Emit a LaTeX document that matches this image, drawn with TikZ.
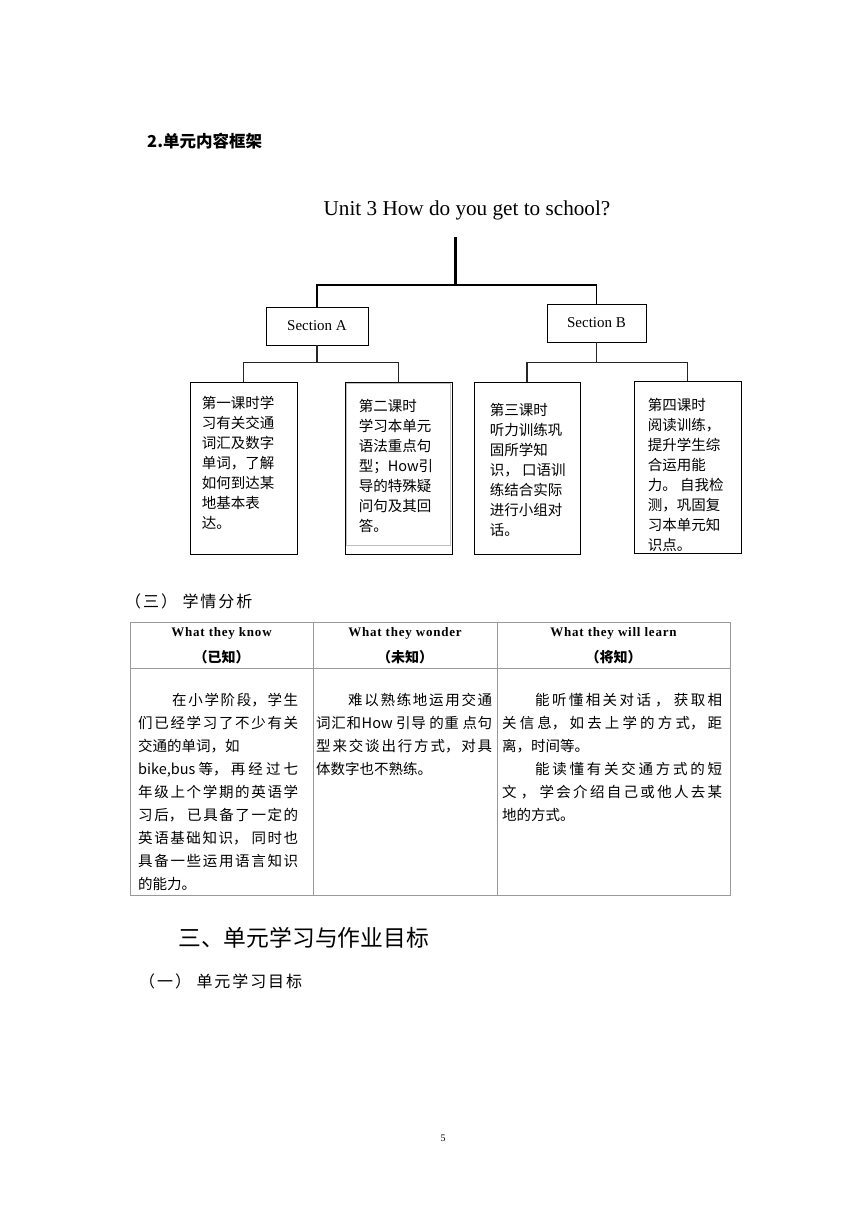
\documentclass[tikz,border=0pt]{standalone}
\usepackage{fontspec}
\setmainfont{Liberation Serif}
\newfontfamily\cjk{Noto Sans CJK SC}
\newfontfamily\cjkwide{Noto Sans CJK SC}[LetterSpace=12]
\newfontfamily\serifwide{Liberation Serif}[LetterSpace=6]
\usepackage{tikz}
\usetikzlibrary{calc}
\XeTeXlinebreaklocale "zh"
\XeTeXlinebreakskip=0pt plus 4pt

\begin{document}
\begin{tikzpicture}[x=1pt,y=-1pt,
  heading/.style={anchor=west,inner sep=0pt,font=\cjkwide\fontsize{16}{18}\selectfont},
  sectbox/.style={draw,line width=.8pt,minimum width=102pt,minimum height=38pt,inner sep=0pt,font=\fontsize{15}{18}\selectfont},
  lesson/.style={draw,line width=.8pt,minimum width=107pt,minimum height=172pt,inner sep=0pt},
  lessontext/.style={anchor=north west,inner sep=0pt,align=left,font=\cjk\fontsize{14.5}{20}\selectfont},
  trunk/.style={line width=3pt},
  bar/.style={line width=1.8pt},
  twig/.style={line width=1.3pt,draw=black!85},
  grid/.style={draw=black!40,line width=.9pt},
  headen/.style={inner sep=0pt,font=\serifwide\bfseries\fontsize{13}{15}\selectfont},
  headcn/.style={inner sep=0pt,font=\cjk\bfseries\fontsize{14}{16}\selectfont},
  celltext/.style={anchor=north west,inner sep=0pt,align=justify,font=\cjk\fontsize{14.5}{23}\selectfont}]

\path[use as bounding box] (0,0) rectangle (860,1216);

\node[heading,font=\cjk\bfseries\fontsize{16.5}{18}\selectfont] (frame) at (147,141) {2.单元内容框架};

\node[font=\fontsize{21.2}{24}\selectfont] (unit) at (467,210) {Unit 3 How do you get to school?};
\coordinate (root) at (455,237);
\coordinate (hub) at (455,285);
\node[sectbox] (secA) at (317,326) {Section A};
\node[sectbox,minimum width=99pt] (secB) at (596.5,323) {Section B};
\draw[trunk] (root) -- (hub);
\draw[bar] (hub) -| (secA.north);
\draw[bar] (hub) -| (secB.north);

\node[lesson] (les1) at (243.5,468) {};
\node[lesson] (les2) at (398.5,468) {};
\node[lesson,minimum width=106pt] (les3) at (527,468) {};
\node[lesson] (les4) at (687.5,467) {};
\draw[black!25,line width=.6pt] ($(les2.north west)+(2,2)$) rectangle ($(les2.south east)+(-2,-9)$);
\draw[twig] (secA.south) -- ++(0,17) coordinate (hubA);
\draw[twig] (hubA) -| (les1.north);
\draw[twig] (hubA) -| (les2.north);
\draw[twig] (secB.south) -- ++(0,20) coordinate (hubB);
\draw[twig] (hubB) -| (les3.north);
\draw[twig] (hubB) -| (les4.north);

\node[lessontext] (les1t) at ($(les1.north west)+(12,14)$)
  {第一课时学\\习有关交通\\词汇及数字\\单词，了解\\如何到达某\\地基本表\\达。};
\node[lessontext] (les2t) at ($(les2.north west)+(14,17)$)
  {第二课时\\学习本单元\\语法重点句\\型；How引\\导的特殊疑\\问句及其回\\答。};
\node[lessontext] (les3t) at ($(les3.north west)+(16,21)$)
  {第三课时\\听力训练巩\\固所学知\\识， 口语训\\练结合实际\\进行小组对\\话。};
\node[lessontext] (les4t) at ($(les4.north west)+(14,17)$)
  {第四课时\\阅读训练，\\提升学生综\\合运用能\\力。 自我检\\测，巩固复\\习本单元知\\识点。};

\node[heading] (analysis) at (125,601) {（三） 学情分析};
\draw[grid] (130,622) rectangle (730,895);
\draw[grid] (130,668) -- (730,668);
\draw[grid] (313,622) -- (313,895);
\draw[grid] (497,622) -- (497,895);
\node[headen] (know) at (221.5,633) {What they know};
\node[headcn] (knowcn) at (221.5,657) {（已知）};
\node[headen] (wonder) at (405,633) {What they wonder};
\node[headcn] (wondercn) at (405,657) {（未知）};
\node[headen] (learn) at (613.5,633) {What they will learn};
\node[headcn] (learncn) at (613.5,657) {（将知）};

\node[celltext,text width=160pt] (knowtxt) at (138,693)
  {\hspace*{34pt}在小学阶段，学生\linebreak 们已经学习了不少有关\linebreak 交通的单词，如\\bike,bus等，再经过七\linebreak 年级上个学期的英语学\linebreak 习后， 已具备了一定的\linebreak 英语基础知识， 同时也\linebreak 具备一些运用语言知识\linebreak 的能力。};
\node[celltext,text width=176pt] (wondertxt) at (316,693)
  {\hspace*{32pt}难以熟练地运用交通\linebreak 词汇和How 引导 的重 点句\linebreak 型来交谈出行方式，对具\linebreak 体数字也不熟练。};
\node[celltext,text width=220pt] (learntxt) at (502,693)
  {\hspace*{33pt}能听懂相关对话 ， 获取相\linebreak 关信息，如去上学的方式，距\linebreak 离，时间等。\\\hspace*{33pt}能读懂有关交通方式的短\linebreak 文 ， 学会介绍自己或他人去某\linebreak 地的方式。};

\node[heading,font=\cjk\fontsize{22.8}{26}\selectfont] (goals) at (178,938) {三、单元学习与作业目标};
\node[heading] (unitgoal) at (139,981) {（一） 单元学习目标};
\node[font=\fontsize{10}{12}\selectfont] (page) at (443,1138) {5};

\end{tikzpicture}
\end{document}
